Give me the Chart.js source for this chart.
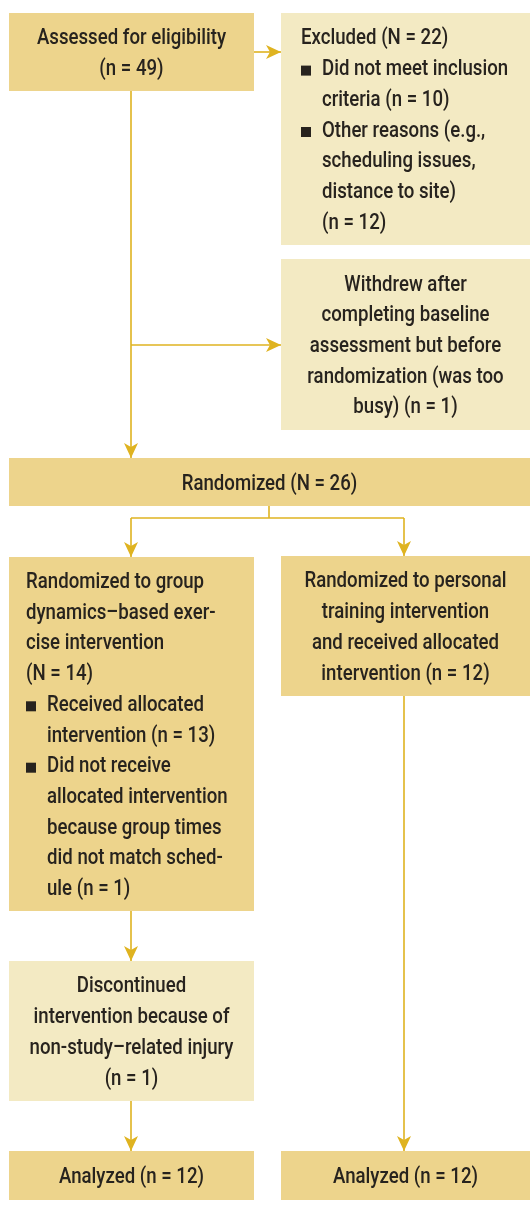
<!DOCTYPE html>
<html>
<head>
<meta charset="utf-8">
<script src="https://cdn.jsdelivr.net/npm/chart.js@4.4.0/dist/chart.umd.min.js"></script>
<style>
  html, body { margin: 0; padding: 0; background: #fff; }
  #flow { display: block; }
</style>
</head>
<body>
<canvas id="flow" width="530" height="1205"></canvas>
<script>
// participant counts
const assessed = 49;
const excluded = 22;
const excludedReasons = [10, 12];
const withdrew = 1;
const randomized = 26;
const groupArm = [14, 13, 1];
const personalArm = 12;
const discontinued = 1;
const analyzed = [12, 12];

// box texts (lines as wrapped in the figure), {b: ...} starts a bullet
const boxTexts = {
    assessed: ['Assessed for eligibility', `(n = ${assessed})`],
    excluded: [`Excluded (N = ${excluded})`,
        {b: 'Did not meet inclusion'}, `criteria (n = ${excludedReasons[0]})`,
        {b: 'Other reasons (e.g.,'}, 'scheduling issues,', 'distance to site)', `(n = ${excludedReasons[1]})`],
    withdrew: ['Withdrew after', 'completing baseline', 'assessment but before',
        'randomization (was too', `busy) (n = ${withdrew})`],
    randomized: [`Randomized (N = ${randomized})`],
    group: ['Randomized to group', 'dynamics\u2013based exer-', 'cise intervention', `(N = ${groupArm[0]})`,
        {b: 'Received allocated'}, `intervention (n = ${groupArm[1]})`,
        {b: 'Did not receive'}, 'allocated intervention', 'because group times',
        'did not match sched-', `ule (n = ${groupArm[2]})`],
    personal: ['Randomized to personal', 'training intervention', 'and received allocated',
        `intervention (n = ${personalArm})`],
    discontinued: ['Discontinued', 'intervention because of', 'non-study\u2013related injury',
        `(n = ${discontinued})`],
    analyzedL: [`Analyzed (n = ${analyzed[0]})`],
    analyzedR: [`Analyzed (n = ${analyzed[1]})`]
};

// layout (diagram units = pixels of the figure)
const layout = {
    assessed:     {x0: 9,   x1: 254, y0: 13,   y1: 91,   fill: 'dark',  align: 'center'},
    excluded:     {x0: 281, x1: 530, y0: 13,   y1: 245,  fill: 'light', align: 'left', pad: 20},
    withdrew:     {x0: 281, x1: 530, y0: 259,  y1: 430,  fill: 'light', align: 'center'},
    randomized:   {x0: 9,   x1: 530, y0: 458,  y1: 506,  fill: 'dark',  align: 'center'},
    group:        {x0: 9,   x1: 254, y0: 557,  y1: 911,  fill: 'dark',  align: 'left', pad: 17},
    personal:     {x0: 281, x1: 530, y0: 556,  y1: 696,  fill: 'dark',  align: 'center'},
    discontinued: {x0: 9,   x1: 254, y0: 961,  y1: 1101, fill: 'light', align: 'center'},
    analyzedL:    {x0: 9,   x1: 254, y0: 1151, y1: 1200, fill: 'dark',  align: 'center'},
    analyzedR:    {x0: 281, x1: 530, y0: 1151, y1: 1200, fill: 'dark',  align: 'center'}
};

// connectors: polylines, last point gets an arrowhead if arrow is set
const connectors = [
    {pts: [[131, 91], [131, 458]], arrow: true},
    {pts: [[254, 52], [281, 52]], arrow: true},
    {pts: [[131, 345], [281, 345]], arrow: true},
    {pts: [[269, 506], [269, 518]], arrow: false},
    {pts: [[131, 518], [404, 518]], arrow: false},
    {pts: [[131, 518], [131, 557]], arrow: true},
    {pts: [[404, 518], [404, 556]], arrow: true},
    {pts: [[131, 911], [131, 961]], arrow: true},
    {pts: [[404, 696], [404, 1151]], arrow: true},
    {pts: [[131, 1101], [131, 1151]], arrow: true}
];

const colors = {dark: '#edd48c', light: '#f3eac3', line: '#dfb320', text: '#27231e'};
const fontFamily = 'Roboto, "Noto Sans", sans-serif';
const fontSize = 22;
const fontWeight = 500;
const lineHeight = 30.7;
// the figure uses a condensed face; squeeze a regular one to the same width
const calib = {text: 'Assessed for eligibility', width: 189};

const flowPlugin = {
    id: 'flow',
    afterDraw(chart) {
        const ctx = chart.ctx;
        const sx = chart.scales.x, sy = chart.scales.y;
        const px = v => sx.getPixelForValue(v);
        const py = v => sy.getPixelForValue(v);
        ctx.save();
        ctx.font = fontWeight + ' ' + fontSize + 'px ' + fontFamily;
        const squeeze = calib.width / ctx.measureText(calib.text).width;

        const put = (txt, x, y, align) => {
            ctx.save();
            ctx.translate(x, y);
            ctx.scale(squeeze, 1);
            ctx.textAlign = align;
            ctx.fillText(txt, 0, 0);
            ctx.restore();
        };

        // boxes and their text
        Object.keys(layout).forEach(key => {
            const b = layout[key];
            const left = px(b.x0), right = px(b.x1), top = py(b.y0), bottom = py(b.y1);
            ctx.fillStyle = colors[b.fill];
            ctx.fillRect(left, top, right - left, bottom - top);

            const lines = boxTexts[key];
            const mid = (top + bottom) / 2 + 2;
            const first = mid - (lines.length - 1) * lineHeight / 2;
            ctx.fillStyle = colors.text;
            ctx.textBaseline = 'middle';
            let inBullet = false;
            lines.forEach((ln, i) => {
                const yy = first + i * lineHeight;
                let txt = ln;
                if (typeof ln === 'object') {
                    txt = ln.b;
                    inBullet = true;
                    ctx.fillRect(left + b.pad, yy - 4, 10, 10);
                }
                if (b.align === 'center') {
                    put(txt, (left + right) / 2, yy, 'center');
                } else {
                    const indent = inBullet ? 21 : 0;
                    put(txt, left + b.pad + indent, yy, 'left');
                }
            });
        });

        // connectors
        ctx.strokeStyle = colors.line;
        ctx.fillStyle = colors.line;
        ctx.lineWidth = 1.6;
        connectors.forEach(c => {
            const pts = c.pts.map(p => [px(p[0]), py(p[1])]);
            ctx.beginPath();
            pts.forEach((p, i) => i ? ctx.lineTo(p[0], p[1]) : ctx.moveTo(p[0], p[1]));
            ctx.stroke();
            if (c.arrow) {
                const [ax, ay] = pts[pts.length - 2];
                const [bx, by] = pts[pts.length - 1];
                const ang = Math.atan2(by - ay, bx - ax);
                ctx.save();
                ctx.translate(bx, by);
                ctx.rotate(ang);
                ctx.beginPath();
                ctx.moveTo(0, 0);
                ctx.lineTo(-15, -7);
                ctx.lineTo(-11, 0);
                ctx.lineTo(-15, 7);
                ctx.closePath();
                ctx.fill();
                ctx.restore();
            }
        });
        ctx.restore();
    }
};

new Chart(document.getElementById('flow'), {
    type: 'scatter',
    data: {datasets: []},
    options: {
        responsive: false,
        animation: false,
        devicePixelRatio: 1,
        layout: {padding: 0},
        plugins: {legend: {display: false}, tooltip: {enabled: false}},
        scales: {
            x: {type: 'linear', min: 0, max: 530, display: false},
            y: {type: 'linear', min: 0, max: 1205, reverse: true, display: false}
        }
    },
    plugins: [flowPlugin]
});
</script>
</body>
</html>
